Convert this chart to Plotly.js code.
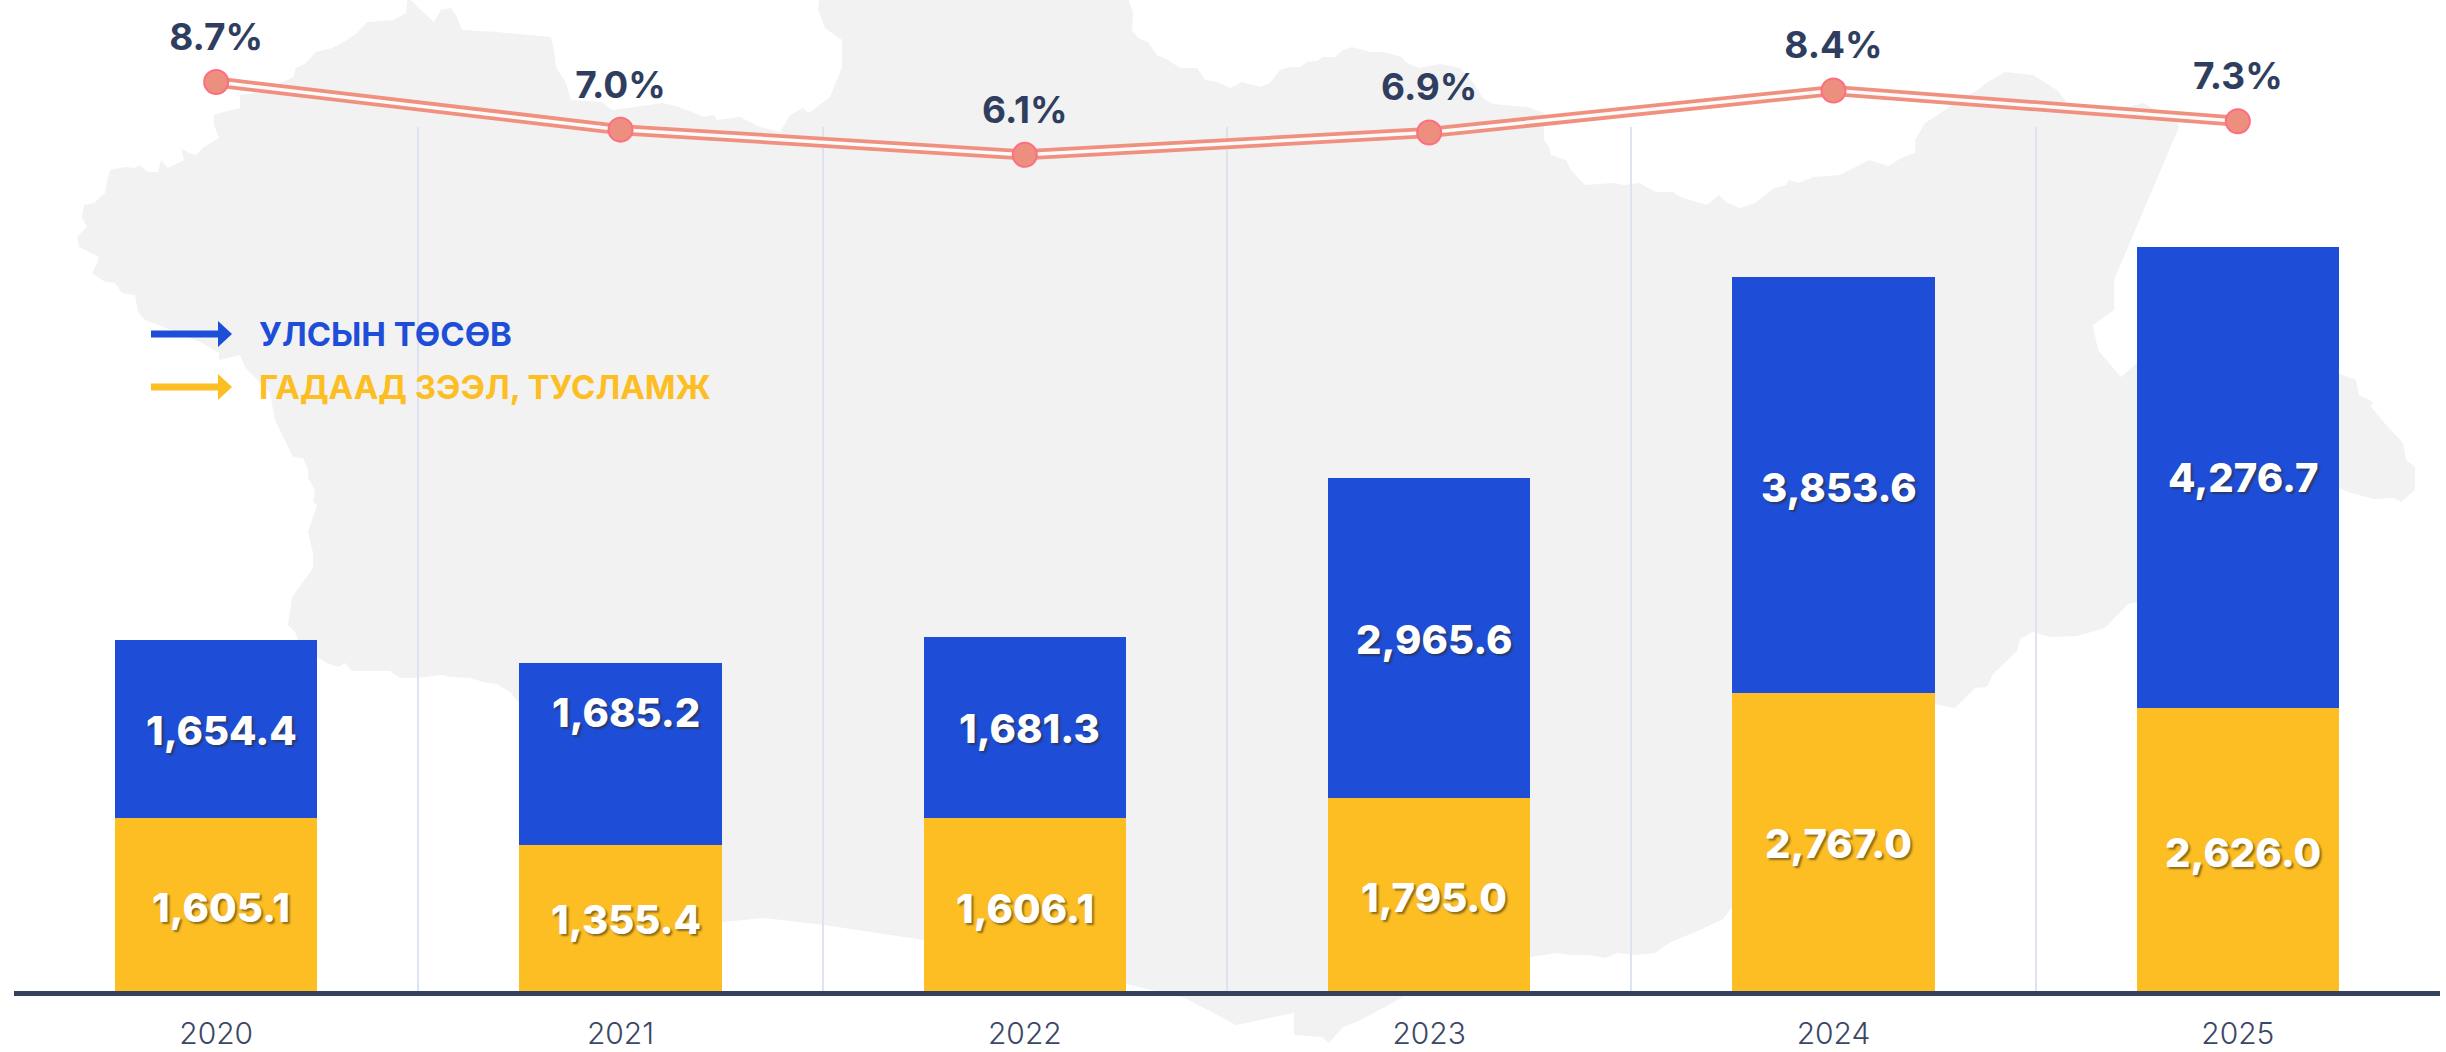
<!DOCTYPE html>
<html>
<head>
<meta charset="utf-8">
<script src="https://cdn.plot.ly/plotly-3.0.1.min.js"></script>
<style>html,body{margin:0;padding:0;background:#fff}#chart{width:2446px;height:1052px}</style>
</head>
<body>
<div id="chart"></div>
<script>
const years = ['2020','2021','2022','2023','2024','2025'];
const stateBudget = [1654.4,1685.2,1681.3,2965.6,3853.6,4276.7];
const foreignLoan = [1605.1,1355.4,1606.1,1795.0,2767.0,2626.0];
const sharePct = [8.7,7.0,6.1,6.9,8.4,7.3];
const legendNames = ['УЛСЫН ТӨСӨВ','ГАДААД ЗЭЭЛ, ТУСЛАМЖ'];

// decorative backdrop outline, page pixels
const mapOutline = [[408,-5],[411,0],[416,5],[423,12],[434,22],[441,10],[451,8],[457,17],[462,30],[497,32],[551,37],[554,50],[556,67],[566,83],[571,100],[602,102],[612,110],[663,103],[679,107],[704,117],[714,115],[717,120],[740,117],[760,127],[780,132],[790,115],[803,108],[808,113],[813,110],[830,97],[842,67],[842,40],[825,28],[818,10],[820,-5],[1127,-5],[1133,13],[1132,30],[1138,38],[1148,42],[1157,55],[1168,60],[1180,68],[1197,68],[1205,80],[1217,82],[1230,88],[1242,82],[1260,87],[1270,83],[1280,70],[1290,67],[1300,67],[1307,62],[1317,61],[1323,57],[1335,57],[1343,50],[1352,47],[1370,52],[1383,52],[1402,57],[1407,63],[1420,68],[1440,64],[1460,68],[1473,82],[1483,98],[1493,104],[1527,107],[1544,113],[1544,140],[1549,147],[1551,155],[1566,160],[1571,170],[1585,185],[1614,183],[1624,185],[1639,183],[1656,192],[1673,192],[1680,197],[1707,205],[1719,195],[1726,202],[1740,208],[1755,203],[1774,188],[1786,185],[1789,180],[1799,183],[1813,177],[1840,175],[1869,160],[1888,166],[1903,157],[1915,153],[1915,140],[1925,123],[1942,112],[1959,100],[1978,90],[1986,83],[2005,72],[2033,75],[2057,90],[2067,103],[2095,115],[2129,107],[2143,103],[2176,120],[2179,127],[2131,240],[2114,280],[2114,310],[2093,325],[2098,350],[2121,377],[2138,362],[2200,340],[2343,375],[2356,380],[2359,395],[2373,402],[2371,407],[2388,427],[2403,443],[2406,460],[2415,467],[2415,490],[2401,502],[2394,498],[2374,499],[2351,493],[2320,480],[2200,590],[2128,604],[2105,628],[2077,636],[2050,637],[2033,632],[2020,639],[2017,651],[1993,674],[1987,687],[1975,688],[1955,708],[1945,706],[1935,704],[1800,800],[1732,907],[1723,919],[1700,930],[1669,943],[1655,953],[1634,955],[1617,953],[1606,958],[1589,955],[1571,955],[1557,953],[1531,957],[1450,970],[1403,997],[1357,1022],[1343,1027],[1329,1043],[1322,1037],[1294,1035],[1294,1013],[1236,1025],[1185,998],[1126,984],[924,940],[824,925],[764,918],[722,922],[600,800],[519,703],[510,692],[497,684],[483,682],[470,678],[450,677],[442,675],[417,678],[400,678],[390,671],[352,671],[345,663],[338,667],[327,663],[317,657],[298,640],[295,632],[288,625],[292,597],[313,568],[313,553],[308,532],[317,505],[313,502],[315,490],[308,478],[308,470],[303,458],[293,457],[275,420],[270,393],[245,367],[240,355],[219,360],[219,353],[202,343],[179,333],[158,325],[145,320],[138,312],[135,295],[122,293],[115,283],[105,282],[92,273],[97,263],[99,257],[89,252],[79,247],[77,237],[87,227],[82,217],[84,205],[94,203],[105,193],[107,182],[110,170],[125,167],[135,168],[140,165],[148,172],[158,172],[161,160],[168,168],[184,160],[181,148],[189,153],[196,155],[204,147],[219,138],[214,125],[214,115],[224,112],[240,108],[240,95],[262,92],[293,77],[296,68],[306,63],[316,52],[332,48],[347,40],[357,33],[367,22],[393,20],[406,13]];

const W = 2446, H = 1052;
const px = x => x / W, py = y => 1 - y / H;
const BLUE = '#1e4ed8', YELLOW = '#fcbe23', NAVY = '#2f3e5e';
const fmt = v => v.toLocaleString('en-US',{minimumFractionDigits:1,maximumFractionDigits:1});

const mapPath = 'M' + mapOutline.map(p => px(p[0]) + ',' + py(p[1])).join('L') + 'Z';

const traces = [
  {type:'bar', name:legendNames[1], x:years, y:foreignLoan, marker:{color:YELLOW}, hoverinfo:'y'},
  {type:'bar', name:legendNames[0], x:years, y:stateBudget, marker:{color:BLUE}, hoverinfo:'y'},
  {type:'scatter', mode:'lines', x:years, y:sharePct, xaxis:'x2', yaxis:'y2',
   line:{color:'#f0907f', width:11}, hoverinfo:'skip'},
  {type:'scatter', mode:'lines', x:years, y:sharePct, xaxis:'x2', yaxis:'y2',
   line:{color:'#fbfafa', width:3.5}, hoverinfo:'skip'},
  {type:'scatter', mode:'markers', x:years, y:sharePct, xaxis:'x2', yaxis:'y2',
   marker:{size:24, color:'#ec8f7f', line:{color:'#ff6d80', width:2}}, hoverinfo:'y'},
  {type:'scatter', mode:'markers+text', x:years, y:sharePct, xaxis:'x2', yaxis:'y2',
   text:sharePct.map(v => v.toFixed(1)+'%'), textposition:'top center',
   textfont:{family:'Inter, sans-serif', size:37, color:NAVY, weight:700},
   marker:{size:35, opacity:0}, hoverinfo:'skip'}
];

// per-label pixel nudges from bar centre
const yellowNudge = [[5,3],[5,2],[0,4],[5,3],[5,2],[5,3]];
const blueNudge = [[5,2],[5,-42],[5,1],[5,2],[5,2],[5,0]];
const valueFont = () => ({family:'Inter, sans-serif', size:40, color:'#ffffff', weight:800,
                          shadow:'2px 2px 2px rgba(50,40,20,0.55)'});
const annotations = [];
years.forEach((yr,i) => {
  annotations.push({x:i, y:foreignLoan[i]/2, xref:'x', yref:'y', text:fmt(foreignLoan[i]), showarrow:false,
    font:valueFont(), xshift:yellowNudge[i][0], yshift:-yellowNudge[i][1]});
  annotations.push({x:i, y:foreignLoan[i]+stateBudget[i]/2, xref:'x', yref:'y', text:fmt(stateBudget[i]), showarrow:false,
    font:valueFont(), xshift:blueNudge[i][0], yshift:-blueNudge[i][1]});
});
[[legendNames[0],BLUE,334],[legendNames[1],YELLOW,387]].forEach(l => {
  annotations.push({xref:'paper', yref:'paper', x:px(257), y:py(l[2]), xanchor:'left', yanchor:'middle',
    text:l[0], showarrow:false, font:{family:'Inter, sans-serif', size:33, color:l[1], weight:700}});
});

const shapes = [{type:'path', xref:'paper', yref:'paper', layer:'below', path:mapPath,
                 fillcolor:'#f2f2f2', line:{width:0}}];
[[BLUE,334],[YELLOW,387]].forEach(l => {
  shapes.push({type:'rect', xref:'paper', yref:'paper', layer:'above',
    x0:px(151), x1:px(220), y0:py(l[1]-3.5), y1:py(l[1]+3.5), fillcolor:l[0], line:{width:0}});
  shapes.push({type:'path', xref:'paper', yref:'paper', layer:'above',
    path:'M'+px(218)+','+py(l[1]-13)+'L'+px(232)+','+py(l[1])+'L'+px(218)+','+py(l[1]+13)+'Z',
    fillcolor:l[0], line:{width:0}});
});

const layout = {
  width:W, height:H, margin:{l:0,r:0,t:0,b:0,pad:0},
  paper_bgcolor:'#ffffff', plot_bgcolor:'rgba(0,0,0,0)',
  barmode:'stack', bargap:0.5, showlegend:false, hovermode:false,
  font:{family:'Inter, sans-serif'},
  xaxis:{type:'category', domain:[14/W, 2440/W], range:[-0.5,5.5], tickson:'boundaries', anchor:'y',
    showgrid:true, gridcolor:'#dde3f0', gridwidth:2, ticks:'', zeroline:false,
    showline:true, linecolor:'#34425e', linewidth:5, ticklabelstandoff:12,
    tickfont:{family:'Inter, sans-serif', size:30, color:'#3b4763', weight:300}},
  yaxis:{domain:[61/H, 925/H], range:[0,8015], visible:false, showgrid:false, zeroline:false, anchor:'x'},
  xaxis2:{type:'category', domain:[14/W, 2440/W], range:[-0.5,5.5], anchor:'y2', visible:false, showgrid:false, zeroline:false},
  yaxis2:{domain:[61/H, 1], range:[-23.76,11.63], anchor:'x2', visible:false, showgrid:false, zeroline:false},
  shapes:shapes, annotations:annotations
};

Plotly.newPlot('chart', traces, layout, {displayModeBar:false, staticPlot:true});
</script>
</body>
</html>
